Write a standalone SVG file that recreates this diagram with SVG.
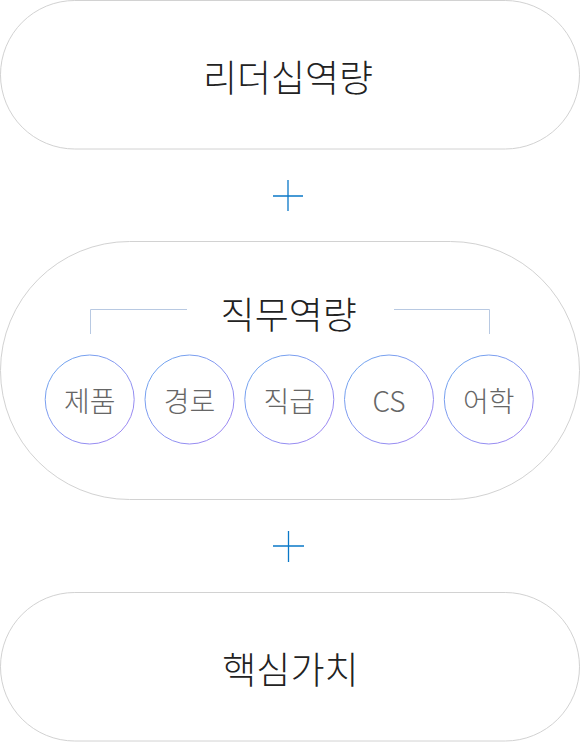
<svg xmlns="http://www.w3.org/2000/svg" width="581" height="743" viewBox="0 0 581 743">
<style>
.pill{fill:#fff;stroke:#d2d2d2;stroke-width:1}
.title{font-family:"Noto Sans CJK KR","Noto Sans",sans-serif;font-size:37px;font-weight:300;fill:#222;text-anchor:middle}
.circ{fill:#fff;stroke:url(#cg);stroke-width:1}
.lbl{font-family:"Noto Sans CJK KR","Noto Sans",sans-serif;font-size:28px;font-weight:300;fill:#666;text-anchor:middle}
.plus{stroke:#0a78c8;stroke-width:1.3;fill:none}
.brk{stroke:#b8c9e2;stroke-width:1;fill:none}
</style>
<defs>
<linearGradient id="cg" x1="0" y1="0" x2="1" y2="1">
<stop offset="0" stop-color="#6aa8ee"/>
<stop offset="1" stop-color="#a383f2"/>
</linearGradient>
</defs>
<g id="leadership">
<rect class="pill" x="0.5" y="0.5" width="579" height="148.5" rx="74.25"/>
<text class="title" x="288" y="92">리더십역량</text>
</g>
<g id="job">
<rect class="pill" x="0.5" y="241.5" width="579" height="258" rx="129"/>
<text class="title" x="288.7" y="329">직무역량</text>
</g>
<g id="core">
<rect class="pill" x="0.5" y="592.5" width="579" height="148.5" rx="74.25"/>
<text class="title" x="290.4" y="684">핵심가치</text>
</g>
<g id="connectors">
<path class="plus" d="M273 196H303M288 180V211"/>
<path class="plus" d="M273 546H304M288.5 531V562"/>
<path class="brk" d="M90.5 334V309.5H187M394 309.5H489.5V334"/>
</g>
<g id="c1"><circle class="circ" cx="89.7" cy="399.5" r="44.5"/><text class="lbl" x="89.7" y="412">제품</text></g>
<g id="c2"><circle class="circ" cx="189.5" cy="399.5" r="44.5"/><text class="lbl" x="189.5" y="412">경로</text></g>
<g id="c3"><circle class="circ" cx="289.3" cy="399.5" r="44.5"/><text class="lbl" x="289.3" y="412">직급</text></g>
<g id="c4"><circle class="circ" cx="389" cy="399.5" r="44.5"/><text class="lbl" x="389" y="412">CS</text></g>
<g id="c5"><circle class="circ" cx="488.8" cy="399.5" r="44.5"/><text class="lbl" x="488.8" y="412">어학</text></g>
</svg>
